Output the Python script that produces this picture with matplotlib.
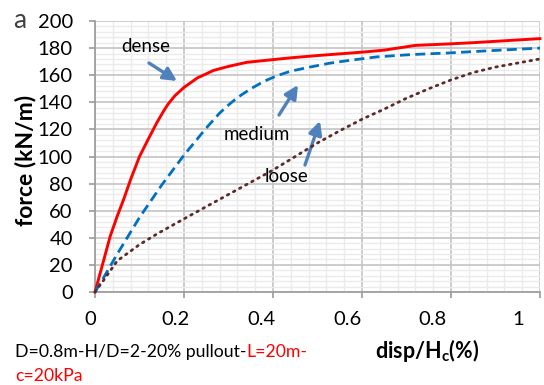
import matplotlib
matplotlib.use("Agg")
import matplotlib.pyplot as plt
from matplotlib.ticker import MultipleLocator, FuncFormatter
from matplotlib.transforms import ScaledTranslation

plt.rcParams['font.family'] = ['Lato', 'DejaVu Sans']

# displacement ratio (disp/Hc) and pullout force (kN/m) for each soil state
dense_x = [0, 0.02, 0.034, 0.05, 0.064, 0.08, 0.10, 0.12, 0.139, 0.155, 0.165, 0.18, 0.19,
           0.20, 0.213, 0.23, 0.25, 0.266, 0.30, 0.341, 0.40, 0.446, 0.50, 0.60, 0.65,
           0.69, 0.72, 0.79, 0.85, 0.90, 0.95, 1.0]
dense_y = [0, 24, 41, 56, 68, 83, 100, 113, 125, 134, 139, 145, 148,
           151, 154, 158, 161, 163.5, 166.5, 169.5, 171.5, 173, 174.5, 177, 178.5,
           180.5, 182, 183, 184, 185, 186, 187]

medium_x = [0, 0.02, 0.05, 0.10, 0.15, 0.20, 0.25, 0.28, 0.30, 0.32, 0.35, 0.38, 0.408,
            0.44, 0.483, 0.53, 0.573, 0.633, 0.70, 0.73, 0.80, 0.843, 0.90, 1.0]
medium_y = [0, 11, 28, 55, 79, 101, 121, 132, 138, 143.5, 150, 155.5, 159.5,
            163, 166, 169, 171, 173.5, 175, 175.5, 176.5, 177.3, 178.3, 180]

loose_x = [0, 0.02, 0.05, 0.10, 0.14, 0.20, 0.25, 0.30, 0.35, 0.40, 0.45, 0.50, 0.55,
           0.60, 0.65, 0.70, 0.75, 0.80, 0.85, 0.90, 0.95, 1.0]
loose_y = [0, 9, 23, 35, 43, 54, 63, 72, 81, 90, 100, 110, 119,
           127.5, 135, 143, 150, 156.5, 162, 166, 169, 172]

x_ticks = [0, 0.2, 0.4, 0.6, 0.8, 1.0]
y_ticks = list(range(0, 201, 20))

W, H = 544, 385
fig = plt.figure(figsize=(W / 100, H / 100), dpi=100)
ax = fig.add_axes([95 / W, 1 - 292 / H, 445 / W, 271 / H])

ax.set_xlim(0, 1)
ax.set_ylim(0, 200)
ax.set_xticks(x_ticks)
ax.set_yticks(y_ticks)
ax.xaxis.set_minor_locator(MultipleLocator(0.04))
ax.yaxis.set_minor_locator(MultipleLocator(4))
ax.xaxis.set_major_formatter(FuncFormatter(lambda v, p: "%g" % v))

ax.grid(which='minor', color='#ebebeb', linewidth=1.0)
ax.grid(which='major', color='#c4c4c4', linewidth=1.2)
ax.set_axisbelow(True)

for side in ('top', 'right'):
    ax.spines[side].set_visible(False)
for side in ('left', 'bottom'):
    ax.spines[side].set_color('#9a9a9a')
    ax.spines[side].set_linewidth(1.2)

ax.tick_params(which='major', direction='out', length=4, width=1.2, color='#9a9a9a',
               labelsize=14.5)
ax.tick_params(axis='x', which='major', pad=10)
ax.tick_params(axis='y', which='major', pad=12)
ax.tick_params(which='minor', length=0)

# the labels along x sit a little to the left of their ticks, more so to the right
fig.canvas.draw()
for i, lab in enumerate(ax.get_xticklabels()):
    dx = -(4.5 + 17.5 * x_ticks[i])
    lab.set_transform(lab.get_transform() + ScaledTranslation(dx / 100, 0, fig.dpi_scale_trans))

ax.plot(dense_x, dense_y, color='#ff0000', linewidth=2.1, clip_on=False, zorder=4)
ax.plot(medium_x, medium_y, color='#0070c0', linewidth=2.0, linestyle=(0, (3.6, 1.9)),
        clip_on=False, zorder=4)
ax.plot(loose_x, loose_y, color='#5c2a2a', linewidth=2.0, linestyle=(0, (0.6, 1.9)),
        dash_capstyle='round', clip_on=False, zorder=4)

arrow_kw = dict(arrowstyle='-|>,head_length=0.8,head_width=0.4', color='#4f81bd',
                linewidth=2.4, shrinkA=0, shrinkB=0)

def px(xp, yp):
    return ((xp - 95) / 445, (292 - yp) / 1.355)

ax.text(*px(146, 46), 'dense', fontsize=13.5, ha='center', va='center')
ax.annotate('', xy=px(177, 81), xytext=px(149, 63), arrowprops=arrow_kw)
ax.text(*px(257, 134), 'medium', fontsize=13.5, ha='center', va='center')
ax.annotate('', xy=px(298, 85), xytext=px(279, 115), arrowprops=arrow_kw)
ax.text(*px(287, 177), 'loose', fontsize=13.5, ha='center', va='center')
ax.annotate('', xy=px(320, 121), xytext=px(305, 165), arrowprops=arrow_kw)

fig.text(25 / W, 1 - 160 / H, 'force (kN/m)', fontsize=16.5, fontweight='bold',
         rotation=90, ha='center', va='center')
fig.text(427 / W, 1 - 351 / H, r'disp/H$_\mathregular{c}$(%)', fontsize=15.5,
         fontweight='bold', ha='center', va='center')
fig.text(20 / W, 1 - 20 / H, 'a', fontsize=19, color='#404040', ha='center', va='center')

# caption built from coloured pieces placed one after another
renderer = fig.canvas.get_renderer()
cap_y = 1 - 357 / H
x0 = 15 / W
for piece, col in [('D=0.8m-H/D=2-20% pullout-', 'black'), ('L=20m-', '#ff0000')]:
    t = fig.text(x0, cap_y, piece, fontsize=12.7, color=col, ha='left', va='baseline')
    bb = t.get_window_extent(renderer)
    x0 = bb.x1 / fig.bbox.width
fig.text(15 / W, 1 - 384 / H, 'c=20kPa', fontsize=12.7, color='#ff0000',
         ha='left', va='bottom')

fig.savefig('out.png', dpi=100)
